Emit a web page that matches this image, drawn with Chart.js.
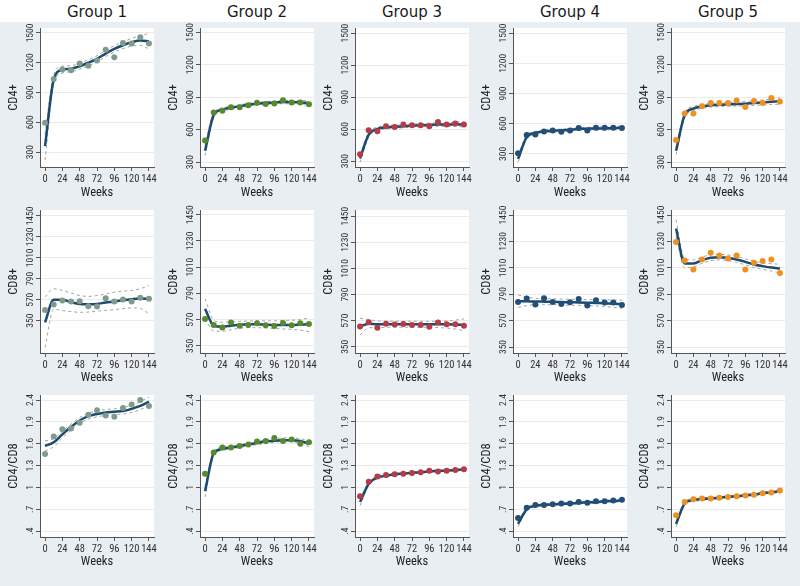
<!DOCTYPE html>
<html>
<head>
<meta charset="utf-8">
<script src="https://cdn.jsdelivr.net/npm/chart.js@4.4.0/dist/chart.umd.min.js"></script>
<style>
  body { margin: 0; background: #fff; }
  #wrap { position: relative; width: 800px; height: 586px; overflow: hidden; }
  #bg { position: absolute; left: 0; top: 22px; width: 800px; height: 564px; background: #e9eef2; }
  .ttl { position: absolute; top: 3px; width: 114px; text-align: center; font: 15px "DejaVu Sans", sans-serif; color: #1a1a1a; }
  canvas { position: absolute; }
</style>
</head>
<body>
<div id="wrap"><div id="bg"></div></div>
<script>
// weeks of follow-up (x axis)
const weeks = [0, 12, 24, 36, 48, 60, 72, 84, 96, 108, 120, 132, 144];
const xTicks = [0, 24, 48, 72, 96, 120, 144];
const groups = ['Group 1', 'Group 2', 'Group 3', 'Group 4', 'Group 5'];
const dotColors = ['#7e9b8b', '#578a2b', '#b83a44', '#214f7a', '#f0901e'];

// CD4+ : observed means, fitted curve, CI bounds (one row per group)
const cd4Obs = [
  [595, 1037, 1131, 1125, 1192, 1171, 1222, 1332, 1255, 1400, 1393, 1456, 1393],
  [500, 759, 774, 807, 807, 825, 849, 837, 843, 873, 852, 852, 834],
  [365, 589, 579, 627, 621, 643, 637, 637, 627, 668, 643, 652, 643],
  [307, 487, 493, 523, 533, 520, 533, 557, 533, 560, 560, 560, 557],
  [504, 750, 750, 816, 846, 846, 846, 870, 810, 864, 846, 894, 861]
];
const cd4Fit = [
  [360, 1030, 1130, 1140, 1165, 1200, 1240, 1292, 1340, 1376, 1406, 1423, 1416],
  [405, 735, 786, 804, 816, 831, 840, 846, 852, 855, 855, 852, 846],
  [325, 548, 602, 617, 621, 627, 633, 637, 640, 643, 643, 646, 643],
  [250, 467, 510, 523, 530, 533, 540, 547, 550, 553, 553, 557, 557],
  [405, 735, 795, 816, 825, 831, 834, 837, 840, 846, 852, 858, 864]
];
const cd4Hi = [
  [480, 1080, 1165, 1170, 1195, 1230, 1272, 1322, 1372, 1410, 1445, 1472, 1495],
  [450, 760, 802, 818, 830, 845, 854, 860, 866, 870, 871, 870, 868],
  [360, 572, 618, 632, 636, 642, 648, 652, 656, 660, 661, 665, 667],
  [285, 487, 525, 536, 543, 546, 553, 560, 563, 567, 568, 573, 577],
  [440, 760, 815, 834, 842, 848, 852, 856, 860, 867, 875, 883, 893]
];
const cd4Lo = [
  [220, 985, 1095, 1110, 1135, 1170, 1208, 1262, 1308, 1342, 1367, 1374, 1340],
  [360, 710, 770, 790, 802, 817, 826, 832, 838, 840, 839, 834, 824],
  [290, 524, 586, 602, 606, 612, 618, 622, 624, 626, 625, 627, 619],
  [215, 447, 495, 510, 517, 520, 527, 534, 537, 539, 538, 541, 537],
  [370, 710, 775, 798, 808, 814, 816, 818, 820, 825, 829, 833, 835]
];

// CD8+
const cd8Obs = [
  [463, 520, 562, 551, 554, 502, 498, 586, 551, 572, 551, 590, 579],
  [576, 525, 505, 545, 519, 525, 539, 522, 516, 542, 522, 539, 533],
  [522, 557, 511, 545, 537, 542, 534, 534, 519, 554, 540, 540, 528],
  [726, 754, 704, 757, 726, 709, 723, 751, 695, 740, 720, 720, 701],
  [1226, 1071, 995, 1080, 1136, 1113, 1088, 1113, 995, 1052, 1066, 1080, 967]
];
const cd8Fit = [
  [332, 569, 569, 544, 526, 523, 526, 541, 551, 565, 576, 583, 579],
  [660, 519, 511, 519, 528, 531, 531, 528, 525, 525, 525, 528, 531],
  [522, 545, 540, 540, 540, 540, 540, 540, 540, 540, 540, 538, 535],
  [732, 731, 729, 728, 727, 725, 723, 721, 719, 717, 715, 711, 706],
  [1338, 1046, 1046, 1074, 1094, 1099, 1094, 1080, 1060, 1038, 1024, 1012, 1004]
];
const cd8Hi = [
  [600, 685, 668, 640, 614, 605, 614, 630, 650, 660, 668, 685, 720],
  [745, 565, 548, 552, 556, 558, 560, 560, 560, 562, 565, 570, 585],
  [590, 580, 568, 566, 565, 565, 565, 565, 565, 566, 568, 575, 585],
  [785, 765, 755, 752, 752, 750, 748, 746, 745, 744, 744, 742, 740],
  [1411, 1085, 1075, 1100, 1118, 1122, 1117, 1104, 1085, 1065, 1052, 1044, 1040]
];
const cd8Lo = [
  [70, 470, 456, 445, 438, 440, 450, 458, 466, 476, 484, 478, 420],
  [576, 475, 472, 486, 498, 503, 502, 500, 496, 492, 488, 482, 470],
  [450, 510, 512, 514, 515, 515, 515, 515, 514, 512, 508, 500, 485],
  [680, 695, 702, 702, 702, 700, 698, 697, 696, 692, 688, 680, 672],
  [1270, 1010, 1018, 1048, 1070, 1076, 1071, 1056, 1035, 1012, 997, 983, 968]
];

// CD4/CD8 ratio
const ratioObs = [
  [1.46, 1.70, 1.80, 1.81, 1.89, 2.00, 2.06, 1.99, 1.97, 2.09, 2.14, 2.20, 2.12],
  [1.19, 1.48, 1.55, 1.55, 1.57, 1.59, 1.63, 1.64, 1.68, 1.64, 1.66, 1.60, 1.62],
  [0.88, 1.08, 1.15, 1.17, 1.18, 1.19, 1.20, 1.21, 1.23, 1.22, 1.23, 1.24, 1.25],
  [0.58, 0.72, 0.76, 0.76, 0.77, 0.78, 0.78, 0.80, 0.79, 0.81, 0.81, 0.82, 0.83],
  [0.62, 0.80, 0.84, 0.85, 0.85, 0.86, 0.87, 0.88, 0.89, 0.90, 0.92, 0.93, 0.96]
];
const ratioFit = [
  [1.57, 1.62, 1.73, 1.83, 1.92, 1.98, 2.01, 2.03, 2.04, 2.05, 2.08, 2.12, 2.18],
  [0.95, 1.47, 1.53, 1.55, 1.57, 1.59, 1.61, 1.63, 1.64, 1.65, 1.65, 1.64, 1.60],
  [0.80, 1.05, 1.14, 1.16, 1.18, 1.19, 1.20, 1.21, 1.22, 1.23, 1.23, 1.24, 1.25],
  [0.50, 0.70, 0.75, 0.76, 0.77, 0.775, 0.78, 0.79, 0.795, 0.80, 0.81, 0.815, 0.82],
  [0.50, 0.78, 0.83, 0.84, 0.85, 0.86, 0.87, 0.88, 0.89, 0.905, 0.92, 0.935, 0.95]
];
const ratioHi = [
  [1.64, 1.67, 1.77, 1.87, 1.96, 2.02, 2.05, 2.07, 2.08, 2.10, 2.13, 2.18, 2.24],
  [1.02, 1.49, 1.56, 1.57, 1.59, 1.61, 1.63, 1.65, 1.67, 1.68, 1.68, 1.67, 1.64],
  [0.85, 1.07, 1.16, 1.18, 1.19, 1.20, 1.21, 1.22, 1.23, 1.24, 1.24, 1.25, 1.27],
  [0.54, 0.72, 0.77, 0.775, 0.785, 0.79, 0.795, 0.805, 0.81, 0.815, 0.825, 0.83, 0.84],
  [0.54, 0.80, 0.85, 0.86, 0.865, 0.875, 0.885, 0.895, 0.905, 0.92, 0.935, 0.95, 0.97]
];
const ratioLo = [
  [1.50, 1.56, 1.68, 1.79, 1.88, 1.94, 1.97, 1.99, 2.00, 2.01, 2.03, 2.07, 2.12],
  [0.87, 1.44, 1.51, 1.53, 1.55, 1.57, 1.59, 1.60, 1.62, 1.63, 1.63, 1.60, 1.56],
  [0.75, 1.03, 1.12, 1.14, 1.17, 1.18, 1.19, 1.20, 1.21, 1.22, 1.22, 1.23, 1.23],
  [0.46, 0.68, 0.73, 0.745, 0.755, 0.76, 0.765, 0.775, 0.78, 0.785, 0.795, 0.80, 0.80],
  [0.46, 0.76, 0.81, 0.82, 0.835, 0.845, 0.855, 0.865, 0.875, 0.89, 0.905, 0.92, 0.93]
];

// y axis ticks / labels as printed in the figure
const cd4Ticks = [300, 600, 900, 1200, 1500];
const cd8Ticks = [350, 570, 790, 1010, 1230, 1450];
const ratioTicks = [0.4, 0.7, 1, 1.3, 1.6, 1.9, 2.2];
const ratioTickLabels = ['.4', '.7', '1', '1.3', '1.6', '1.9', '2.4'];
const cd4Range = [[150, 1550], [255, 1540], [245, 1548], [170, 1550], [255, 1540]];
const cd8Range = [[10, 1513], [290, 1490], [298, 1502], [300, 1492], [300, 1492]];
const ratioRange = [0.32, 2.27];

const colLeft = [2, 162, 317, 475, 633];
const cond = '"Roboto Condensed", "Liberation Sans", sans-serif';

const rows = [
  { name: 'CD4+', obs: cd4Obs, fit: cd4Fit, hi: cd4Hi, lo: cd4Lo, ticks: cd4Ticks, labels: null,
    range: i => cd4Range[i], top: 22, h: 180, padTop: 6, xH: 35, wPad: 1.5 },
  { name: 'CD8+', obs: cd8Obs, fit: cd8Fit, hi: cd8Hi, lo: cd8Lo, ticks: cd8Ticks, labels: null,
    range: i => cd8Range[i], top: 202, h: 183, padTop: 8, xH: 32, wPad: 0 },
  { name: 'CD4/CD8', obs: ratioObs, fit: ratioFit, hi: ratioHi, lo: ratioLo, ticks: ratioTicks, labels: ratioTickLabels,
    range: () => ratioRange, top: 385, h: 201, padTop: 10, xH: 49, wPad: 17 }
];

const plotBg = {
  id: 'plotBg',
  beforeDraw(chart) {
    const { ctx, chartArea: a } = chart;
    ctx.save();
    ctx.fillStyle = '#ffffff';
    ctx.fillRect(a.left, a.top, a.right - a.left, a.bottom - a.top);
    ctx.restore();
  }
};

// Stata prints the y tick labels turned 90 degrees
const yLabels = {
  id: 'yLabels',
  afterDraw(chart, args, opts) {
    const s = chart.scales.y;
    const ctx = chart.ctx;
    ctx.save();
    ctx.font = '9.5px ' + cond;
    ctx.fillStyle = '#333';
    ctx.textAlign = 'center';
    ctx.textBaseline = 'middle';
    s.ticks.forEach((t, k) => {
      const y = s.getPixelForValue(t.value);
      ctx.save();
      ctx.translate(s.right - 9, y);
      ctx.rotate(-Math.PI / 2);
      ctx.fillText(opts.labels ? opts.labels[k] : String(t.value), 0, 0);
      ctx.restore();
    });
    ctx.restore();
  }
};

const wrap = document.getElementById('wrap');

groups.forEach((g, i) => {
  const t = document.createElement('div');
  t.className = 'ttl';
  t.style.left = (colLeft[i] + 38) + 'px';
  t.textContent = g;
  wrap.appendChild(t);
});

const pts = vals => weeks.map((w, k) => ({ x: w, y: vals[k] }));

rows.forEach(row => {
  groups.forEach((g, i) => {
    const cv = document.createElement('canvas');
    cv.width = 158;
    cv.height = row.h;
    cv.style.left = colLeft[i] + 'px';
    cv.style.top = row.top + 'px';
    wrap.appendChild(cv);
    const [ymin, ymax] = row.range(i);

    new Chart(cv, {
      type: 'line',
      data: {
        datasets: [
          { data: pts(row.obs[i]), showLine: false, pointRadius: 3, pointBorderWidth: 0,
            pointBackgroundColor: dotColors[i] },
          { data: pts(row.fit[i]), borderColor: '#1d4a6f', borderWidth: 2.5, pointRadius: 0,
            cubicInterpolationMode: 'monotone' },
          { data: pts(row.hi[i]), borderColor: '#a3a3a3', borderWidth: 1, borderDash: [3, 3],
            pointRadius: 0, cubicInterpolationMode: 'monotone' },
          { data: pts(row.lo[i]), borderColor: '#a3a3a3', borderWidth: 1, borderDash: [3, 3],
            pointRadius: 0, cubicInterpolationMode: 'monotone' }
        ]
      },
      options: {
        responsive: false,
        animation: false,
        devicePixelRatio: 1,
        layout: { padding: { top: row.padTop, right: 6, left: 0, bottom: 0 } },
        plugins: { legend: { display: false }, tooltip: { enabled: false },
                   yLabels: { labels: row.labels } },
        scales: {
          x: {
            type: 'linear', min: -7, max: 151,
            afterBuildTicks: s => { s.ticks = xTicks.map(v => ({ value: v })); },
            afterFit: s => { s.height = row.xH; },
            ticks: { autoSkip: false, maxRotation: 0, padding: 2, color: '#333',
                     font: { family: cond, size: 10.5 } },
            grid: { drawOnChartArea: false, tickLength: 4, tickColor: '#555' },
            border: { color: '#555', width: 1 },
            title: { display: true, text: 'Weeks', color: '#222', padding: { top: 0, bottom: row.wPad },
                     font: { family: cond, size: 12.5 } }
          },
          y: {
            min: ymin, max: ymax,
            afterBuildTicks: s => { s.ticks = row.ticks.map(v => ({ value: v })); },
            afterFit: s => { s.width = 38; },
            ticks: { display: false },
            grid: { color: '#ebebeb', tickLength: 4, tickColor: '#555' },
            border: { color: '#555', width: 1 },
            title: { display: true, text: row.name, color: '#222', padding: { top: 4, bottom: 0 },
                     font: { family: cond, size: 12.5 } }
          }
        }
      },
      plugins: [plotBg, yLabels]
    });
  });
});
</script>
</body>
</html>
